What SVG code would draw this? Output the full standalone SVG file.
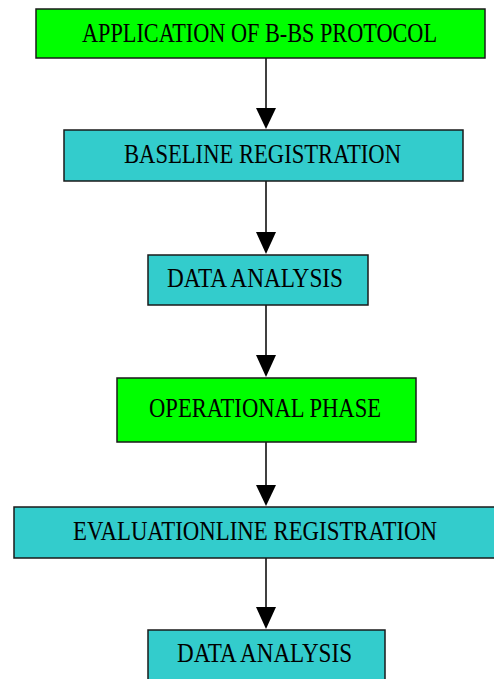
<svg xmlns="http://www.w3.org/2000/svg" width="494" height="679" viewBox="0 0 494 679">
<defs>
<style>
.g{fill:#00ff00;stroke:#1a1a1a;stroke-width:1.5}
.t{fill:#33cccc;stroke:#1a1a1a;stroke-width:1.5}
text{font-family:"Liberation Serif","Times New Roman",serif;font-size:28px;fill:#000}
.c line{stroke:#000;stroke-width:1.5}
.c polygon{fill:#000}
</style>
</defs>
<rect width="494" height="679" fill="#fff"/>
<g class="c" id="connectors">
<line x1="266" y1="58" x2="266" y2="110"/><polygon points="256,108 276,108 266,129"/>
<line x1="266" y1="181" x2="266" y2="234"/><polygon points="256,232 276,232 266,254"/>
<line x1="266" y1="305" x2="266" y2="357"/><polygon points="256,355 276,355 266,377"/>
<line x1="266" y1="442" x2="266" y2="487"/><polygon points="256,485 276,485 266,506"/>
<line x1="266" y1="558" x2="266" y2="609"/><polygon points="256,607 276,607 266,629"/>
</g>
<g id="n1"><rect class="g" x="36" y="9" width="449" height="49"/><text x="82" y="42" textLength="355" lengthAdjust="spacingAndGlyphs">APPLICATION OF B-BS PROTOCOL</text></g>
<g id="n2"><rect class="t" x="64" y="130" width="399" height="51"/><text x="124" y="163" textLength="277" lengthAdjust="spacingAndGlyphs">BASELINE REGISTRATION</text></g>
<g id="n3"><rect class="t" x="148" y="255" width="220" height="50"/><text x="167" y="287" textLength="176" lengthAdjust="spacingAndGlyphs">DATA ANALYSIS</text></g>
<g id="n4"><rect class="g" x="117" y="378" width="299" height="64"/><text x="149" y="417" textLength="232" lengthAdjust="spacingAndGlyphs">OPERATIONAL PHASE</text></g>
<g id="n5"><rect class="t" x="14" y="507" width="490" height="51"/><text x="73" y="540" textLength="364" lengthAdjust="spacingAndGlyphs">EVALUATIONLINE REGISTRATION</text></g>
<g id="n6"><rect class="t" x="148" y="630" width="237" height="60"/><text x="177" y="662" textLength="175" lengthAdjust="spacingAndGlyphs">DATA ANALYSIS</text></g>
</svg>
